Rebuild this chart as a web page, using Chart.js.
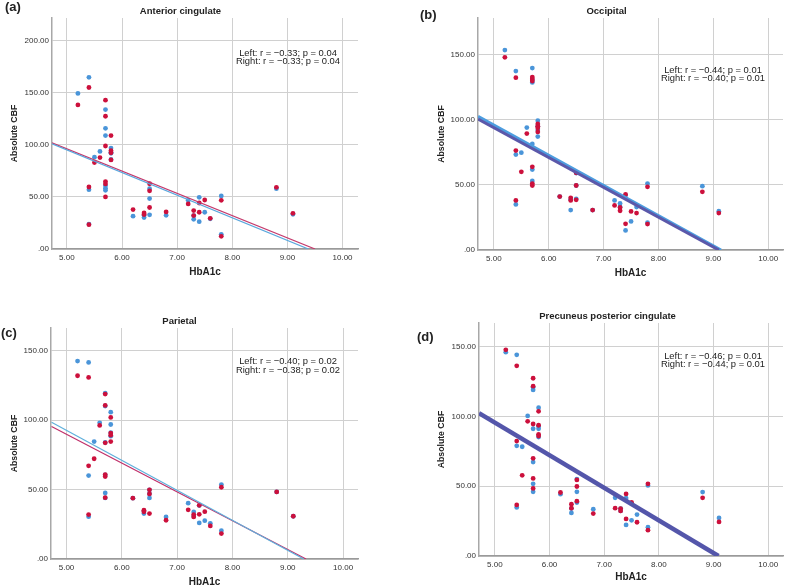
<!DOCTYPE html>
<html>
<head>
<meta charset="utf-8">
<script src="https://cdn.jsdelivr.net/npm/chart.js@4.4.1/dist/chart.umd.min.js"></script>
<style>
  body { margin: 0; background: #fff; width: 787px; height: 586px; overflow: hidden; position: relative; }
  canvas { position: absolute; }
</style>
</head>
<body>
<canvas id="chartA" width="393" height="290" style="left:0;top:0"></canvas>
<canvas id="chartB" width="394" height="290" style="left:393px;top:0"></canvas>
<canvas id="chartC" width="393" height="300" style="left:0;top:290px"></canvas>
<canvas id="chartD" width="394" height="300" style="left:393px;top:290px"></canvas>
<script>
// --- data: [HbA1c, absolute CBF] ---
const antCingLeft = [[5.2,149.5],[5.4,165],[5.4,57],[5.4,24],[5.5,88.2],[5.6,93.8],[5.7,134],[5.7,116],[5.7,109],[5.7,58.4],[5.7,56.4],[5.7,61],
  [5.8,97],[5.8,93],[5.8,92],[5.8,86],[6.2,31.5],[6.4,30.2],[6.4,32.5],[6.5,57.9],[6.5,48.5],[6.5,32.8],[6.8,32.4],[7.2,46.8],[7.3,28.5],[7.3,32],
  [7.4,49.7],[7.4,26.3],[7.5,35.3],[7.6,29],[7.8,51],[7.8,14.1],[8.8,58],[9.1,33.4]];
const antCingRight = [[5.2,138.5],[5.4,155.2],[5.4,59.6],[5.4,23.4],[5.5,83.1],[5.6,87.9],[5.7,143],[5.7,127.6],[5.7,99],[5.7,64.8],[5.7,62.5],[5.7,50],
  [5.8,109],[5.8,94.6],[5.8,92.5],[5.8,85.6],[6.2,37.9],[6.4,34.7],[6.4,33.1],[6.5,62.7],[6.5,55.9],[6.5,39.9],[6.8,35.6],[7.2,43.3],[7.3,36.9],[7.3,32.1],
  [7.4,44.2],[7.4,35.3],[7.5,47.1],[7.6,29.5],[7.8,46.8],[7.8,12.2],[8.8,59.3],[9.1,34.3]];

const occipLeft = [[5.2,153.4],[5.4,137.3],[5.4,73.2],[5.4,35],[5.5,74.7],[5.6,93.9],[5.7,139.6],[5.7,128.6],[5.7,81.4],[5.7,61.7],[5.7,53],[5.7,130.5],
  [5.8,99.2],[5.8,87],[5.8,95],[5.8,92],[6.2,41],[6.4,30.6],[6.4,39],[6.5,59],[6.5,49.5],[6.5,39.3],[6.8,30.6],[7.2,38],[7.3,35.7],[7.3,33],
  [7.4,15],[7.4,42],[7.5,21.9],[7.6,32.9],[7.8,51],[7.8,21],[8.8,49],[9.1,29.8]];
const occipRight = [[5.2,147.8],[5.4,132.2],[5.4,76.3],[5.4,38],[5.5,60],[5.6,89.3],[5.7,132.7],[5.7,131.2],[5.7,129.6],[5.7,63.8],[5.7,51],[5.7,49.5],
  [5.8,96.7],[5.8,94.9],[5.8,93.6],[5.8,90.6],[6.2,41],[6.4,40],[6.4,38],[6.5,59.2],[6.5,49.5],[6.5,38.5],[6.8,30.6],[7.2,34.2],[7.3,32.6],[7.3,30.1],
  [7.4,42.6],[7.4,20.1],[7.5,29.6],[7.6,28.3],[7.8,48.5],[7.8,19.9],[8.8,44.6],[9.1,28.3]];

const parietLeft = [[5.2,142.6],[5.4,141.6],[5.4,60.1],[5.4,30.5],[5.5,84.6],[5.6,98.1],[5.7,119.4],[5.7,110.2],[5.7,47.6],[5.7,84],[5.7,60.5],[5.7,44],
  [5.8,105.8],[5.8,96.9],[5.8,88.5],[5.8,91],[6.2,43.8],[6.4,32.7],[6.4,34.5],[6.5,44],[6.5,49.8],[6.5,47],[6.8,30.3],[7.2,40.2],[7.3,33.9],[7.3,31],
  [7.4,38.5],[7.4,26],[7.5,27.6],[7.6,25.7],[7.8,53.6],[7.8,20.4],[8.8,48.3],[9.1,30.8]];
const parietRight = [[5.2,132],[5.4,130.8],[5.4,67.1],[5.4,32],[5.5,72.2],[5.6,96.2],[5.7,118.8],[5.7,110.6],[5.7,83.7],[5.7,60.8],[5.7,59.4],[5.7,44.2],
  [5.8,102],[5.8,90.7],[5.8,89.2],[5.8,84.6],[6.2,43.8],[6.4,35.1],[6.4,34],[6.5,49.8],[6.5,46.9],[6.5,32.7],[6.8,27.9],[7.2,35.4],[7.3,32],[7.3,30.3],
  [7.4,38.7],[7.4,32.2],[7.5,34.1],[7.6,23.8],[7.8,51.7],[7.8,18.3],[8.8,48.3],[9.1,30.8]];

const precunLeft = [[5.2,146.1],[5.4,144.2],[5.4,79],[5.4,34.8],[5.5,78.3],[5.6,100.4],[5.7,119],[5.7,91.2],[5.7,67.3],[5.7,51.7],[5.7,46],[5.7,121],
  [5.8,106.3],[5.8,91.2],[5.8,85.3],[5.8,93],[6.2,44.3],[6.4,30.9],[6.4,34],[6.5,55.1],[6.5,46],[6.5,38.3],[6.8,33.5],[7.2,41.7],[7.3,32.3],[7.3,34],
  [7.4,41.5],[7.4,22.3],[7.5,25.6],[7.6,29.7],[7.8,50.6],[7.8,20.6],[8.8,45.8],[9.1,27.3]];
const precunRight = [[5.2,147.8],[5.4,136.3],[5.4,82.4],[5.4,36.6],[5.5,57.8],[5.6,96.5],[5.7,127.4],[5.7,121.7],[5.7,94.6],[5.7,70],[5.7,55.6],[5.7,48.4],
  [5.8,103.7],[5.8,93.7],[5.8,87.2],[5.8,86],[6.2,45.5],[6.4,37.1],[6.4,34.3],[6.5,49.8],[6.5,39.3],[6.5,54.5],[6.8,30.4],[7.2,34.3],[7.3,34],[7.3,32.3],
  [7.4,44.5],[7.4,26.6],[7.5,38.5],[7.6,24.2],[7.8,51.7],[7.8,18.5],[8.8,41.7],[9.1,24.4]];

// fit lines, start and end
const antCingFitLeft  = [[4.73,101],[9.38,0]];
const antCingFitRight = [[4.73,102],[9.5,0]];
const occipFitLeft    = [[4.71,102.5],[9.14,0]];
const occipFitRight   = [[4.71,100.5],[9.1,0]];
const parietFitLeft   = [[4.73,98.5],[9.29,0]];
const parietFitRight  = [[4.73,95.5],[9.33,0]];
const precunFit       = [[4.71,102.4],[9.09,0]];

const statsText = {
  a: ['Left: r = \u22120.33; p = 0.04', 'Right: r = \u22120.33; p = 0.04'],
  b: ['Left: r = \u22120.44; p = 0.01', 'Right: r = \u22120.40; p = 0.01'],
  c: ['Left: r = \u22120.40; p = 0.02', 'Right: r = \u22120.38; p = 0.02'],
  d: ['Left: r = \u22120.46; p = 0.01', 'Right: r = \u22120.44; p = 0.01']
};

const BLUE = '#4a95d9';
const RED = '#cc103c';
const FONT = '"Liberation Sans", Arial, sans-serif';

const toXY = arr => arr.map(p => ({ x: p[0], y: p[1] }));

// text around each panel: label, title, r/p annotation
const panelText = {
  id: 'panelText',
  afterDraw(chart, args, o) {
    const { ctx, chartArea: ca } = chart;
    ctx.save();
    ctx.fillStyle = '#222';
    ctx.textBaseline = 'middle';
    ctx.font = 'bold 13px ' + FONT;
    ctx.textAlign = 'left';
    ctx.fillText(o.label, o.labelX, o.labelY);
    ctx.font = 'bold 9.5px ' + FONT;
    ctx.textAlign = 'center';
    ctx.fillText(o.title, ca.left + 128.5, ca.top - 6.5);
    ctx.font = '9.4px ' + FONT;
    ctx.fillText(o.stats[0], ca.right - 70, ca.top + o.statsY[0]);
    ctx.fillText(o.stats[1], ca.right - 70, ca.top + o.statsY[1]);
    ctx.restore();
  }
};

function fitLine(data, color, width) {
  return { data: toXY(data), showLine: true, borderColor: color, borderWidth: width, pointRadius: 0, order: 0 };
}

function makePanel(cfg) {
  const datasets = [
    { data: toXY(cfg.left), backgroundColor: BLUE, pointRadius: 2.4, borderWidth: 0, order: 2 },
    { data: toXY(cfg.right), backgroundColor: RED, pointRadius: 2.4, borderWidth: 0, order: 1 }
  ].concat(cfg.lines);

  return new Chart(document.getElementById(cfg.id), {
    type: 'scatter',
    data: { datasets },
    plugins: [panelText],
    options: {
      responsive: false,
      animation: false,
      devicePixelRatio: 1,
      layout: { padding: { left: cfg.padL, right: cfg.padR, top: cfg.padT, bottom: 0 } },
      plugins: {
        legend: { display: false },
        tooltip: { enabled: false },
        panelText: { label: cfg.label, labelX: cfg.labelX, labelY: cfg.labelY, title: cfg.title, stats: cfg.stats, statsY: cfg.statsY }
      },
      scales: {
        x: {
          type: 'linear', min: cfg.xMin, max: cfg.xMax,
          afterFit: s => { s.height = cfg.xHeight; },
          grid: { color: '#d0d0d0', drawTicks: false },
          border: { color: '#9a9a9a', width: 1.5 },
          ticks: { stepSize: 1, includeBounds: false, padding: 4, color: '#333', font: { family: FONT, size: 8 },
                   callback: v => Number(v).toFixed(2) },
          title: { display: true, text: 'HbA1c', color: '#222', font: { family: FONT, size: 10, weight: 'bold' },
                   padding: { top: 0, bottom: cfg.xTitlePad } }
        },
        y: {
          type: 'linear', min: 0, max: cfg.yMax,
          afterFit: s => { s.width = cfg.yWidth; },
          grid: { color: '#d0d0d0', drawTicks: false },
          border: { color: '#a8a8a8', width: 1.5 },
          ticks: { stepSize: 50, includeBounds: false, padding: 3, color: '#333', font: { family: FONT, size: 8 },
                   callback: v => v === 0 ? '.00' : Number(v).toFixed(2) },
          title: { display: true, text: 'Absolute CBF', color: '#222', font: { family: FONT, size: 8.7, weight: 'bold' },
                   padding: { top: cfg.yTitlePad, bottom: 0 } }
        }
      }
    }
  });
}

makePanel({
  id: 'chartA', label: '(a)', labelX: 5, labelY: 7.5, title: 'Anterior cingulate',
  left: antCingLeft, right: antCingRight, stats: statsText.a, statsY: [35, 43.5],
  lines: [fitLine(antCingFitLeft, '#5aa7dd', 1.2), fitLine(antCingFitRight, '#c53a6c', 1.2)],
  padL: 0, padR: 35, padT: 18, yWidth: 52, xHeight: 41, xTitlePad: 12, yTitlePad: 9.5,
  xMin: 4.73, xMax: 10.28, yMax: 222
});

makePanel({
  id: 'chartB', label: '(b)', labelX: 27, labelY: 15.5, title: 'Occipital',
  left: occipLeft, right: occipRight, stats: statsText.b, statsY: [52, 60.5],
  lines: [fitLine(occipFitRight, '#5b58aa', 3), fitLine(occipFitLeft, '#4d9ddf', 3)],
  padL: 35, padR: 2, padT: 18, yWidth: 50, xHeight: 40, xTitlePad: 11, yTitlePad: 8.5,
  xMin: 4.71, xMax: 10.27, yMax: 178
});

makePanel({
  id: 'chartC', label: '(c)', labelX: 1, labelY: 43, title: 'Parietal',
  left: parietLeft, right: parietRight, stats: statsText.c, statsY: [33.7, 42.2],
  lines: [fitLine(parietFitLeft, '#5fb0dc', 1.2), fitLine(parietFitRight, '#c0306a', 1.2)],
  padL: 0, padR: 35, padT: 38, yWidth: 51, xHeight: 31, xTitlePad: 2, yTitlePad: 9.5,
  xMin: 4.72, xMax: 10.27, yMax: 166.4
});

makePanel({
  id: 'chartD', label: '(d)', labelX: 24, labelY: 47.5, title: 'Precuneus posterior cingulate',
  left: precunLeft, right: precunRight, stats: statsText.d, statsY: [33, 41.7],
  lines: [fitLine(precunFit, '#5456aa', 4.5)],
  padL: 35, padR: 1, padT: 33, yWidth: 51, xHeight: 34, xTitlePad: 7, yTitlePad: 8.5,
  xMin: 4.71, xMax: 10.27, yMax: 167
});
</script>
</body>
</html>
